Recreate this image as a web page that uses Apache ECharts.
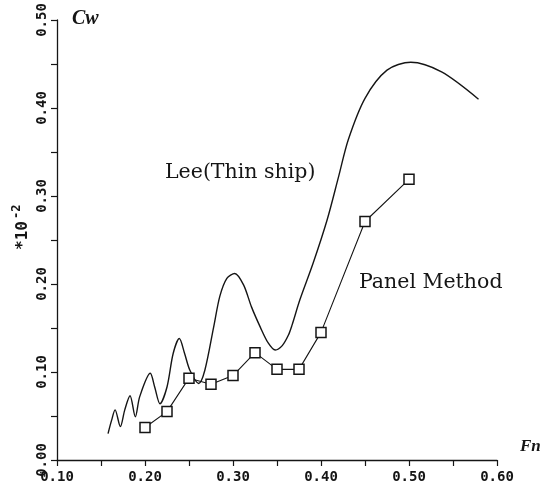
<!DOCTYPE html>
<html>
<head>
<meta charset="utf-8">
<script src="https://cdn.jsdelivr.net/npm/echarts@6/dist/echarts.min.js"></script>
<style>
  html, body { margin: 0; padding: 0; background: #fff; }
  #chart { width: 544px; height: 488px; }
</style>
</head>
<body>
<div id="chart"></div>
<script>
// 波阻系数 Cw (*10^-2) 对 Fn
var leeFn = [0.158, 0.162, 0.166, 0.172, 0.177, 0.183, 0.189, 0.194, 0.206, 0.211,
  0.217, 0.225, 0.232, 0.239, 0.245, 0.251, 0.261, 0.268, 0.278, 0.285,
  0.293, 0.302, 0.312, 0.321, 0.331, 0.340, 0.348, 0.356, 0.363, 0.367,
  0.376, 0.391, 0.407, 0.420, 0.431, 0.450, 0.475, 0.502, 0.537, 0.579];
var leeCw = [0.030, 0.045, 0.057, 0.038, 0.057, 0.073, 0.049, 0.072, 0.0985, 0.083,
  0.064, 0.083, 0.121, 0.138, 0.121, 0.102, 0.087, 0.102, 0.151, 0.186,
  0.2065, 0.212, 0.199, 0.174, 0.151, 0.133, 0.125, 0.130, 0.142, 0.153,
  0.182, 0.2235, 0.273, 0.322, 0.364, 0.411, 0.443, 0.452, 0.441, 0.410];

var panelFn = [0.20, 0.225, 0.25, 0.275, 0.30, 0.325, 0.35, 0.375, 0.40, 0.45, 0.50];
var panelCw = [0.037, 0.055, 0.093, 0.086, 0.096, 0.122, 0.103, 0.103, 0.145, 0.271, 0.319];

var xTicks = [0.10, 0.20, 0.30, 0.40, 0.50, 0.60];
var yTicks = [0.00, 0.10, 0.20, 0.30, 0.40, 0.50];

function pairs(xs, ys) {
  var out = [];
  for (var i = 0; i < xs.length; i++) {
    out.push([xs[i], ys[i]]);
  }
  return out;
}

var ink = "#151515";
var tickFont = "DejaVu Sans Mono";

var chart = echarts.init(document.getElementById("chart"));

var axisCommon = {
  type: "value",
  interval: 0.1,
  axisLine: { show: true, lineStyle: { color: ink, width: 1.3 } },
  axisTick: { show: true, length: 6, lineStyle: { color: ink, width: 1.2 } },
  minorTick: { show: true, splitNumber: 2, length: 6, lineStyle: { color: ink, width: 1.2 } },
  splitLine: { show: false },
  minorSplitLine: { show: false }
};

chart.setOption({
  backgroundColor: "#fff",
  animation: false,
  grid: { left: 57, right: 47, top: 20, bottom: 28 },
  xAxis: Object.assign({}, axisCommon, {
    min: xTicks[0],
    max: xTicks[xTicks.length - 1],
    axisLabel: {
      margin: 10,
      color: ink,
      fontFamily: tickFont,
      fontWeight: "bold",
      fontSize: 14,
      formatter: function(v) { return v.toFixed(2); }
    }
  }),
  yAxis: Object.assign({}, axisCommon, {
    min: yTicks[0],
    max: yTicks[yTicks.length - 1],
    axisLabel: {
      rotate: 90,
      margin: 8,
      color: ink,
      fontFamily: tickFont,
      fontWeight: "bold",
      fontSize: 14,
      formatter: function(v) { return v.toFixed(2); }
    }
  }),
  series: [
    {
      name: "Lee(Thin ship)",
      type: "line",
      data: pairs(leeFn, leeCw),
      smooth: 0.3,
      showSymbol: false,
      lineStyle: { color: ink, width: 1.4 }
    },
    {
      name: "Panel Method",
      type: "line",
      data: pairs(panelFn, panelCw),
      symbol: "rect",
      symbolSize: 10,
      itemStyle: { color: "#fff", borderColor: ink, borderWidth: 1.5 },
      lineStyle: { color: ink, width: 1.1 }
    }
  ],
  graphic: [
    {
      type: "text", left: 72, top: 9,
      style: { text: "Cw", fill: ink, font: "bold italic 20px 'Liberation Serif'" }
    },
    {
      type: "text", left: 520, top: 438,
      style: { text: "Fn", fill: ink, font: "bold italic 17px 'Liberation Serif'" }
    },
    {
      type: "group", x: 23, y: 250, rotation: Math.PI / 2,
      children: [
        { type: "text", x: 0, y: 0,
          style: { text: "*10", fill: ink, font: "bold 16px 'DejaVu Sans Mono'", textAlign: "left", textVerticalAlign: "middle" } },
        { type: "text", x: 31, y: -6,
          style: { text: "-2", fill: ink, font: "bold 12px 'DejaVu Sans Mono'", textAlign: "left", textVerticalAlign: "middle" } }
      ]
    },
    {
      type: "text", x: 165, y: 183,
      style: { text: "Lee(Thin ship)", fill: ink, font: "20.5px 'DejaVu Serif'", textVerticalAlign: "bottom" }
    },
    {
      type: "text", x: 359, y: 293,
      style: { text: "Panel Method", fill: ink, font: "20.5px 'DejaVu Serif'", textVerticalAlign: "bottom" }
    }
  ]
});
</script>
</body>
</html>
